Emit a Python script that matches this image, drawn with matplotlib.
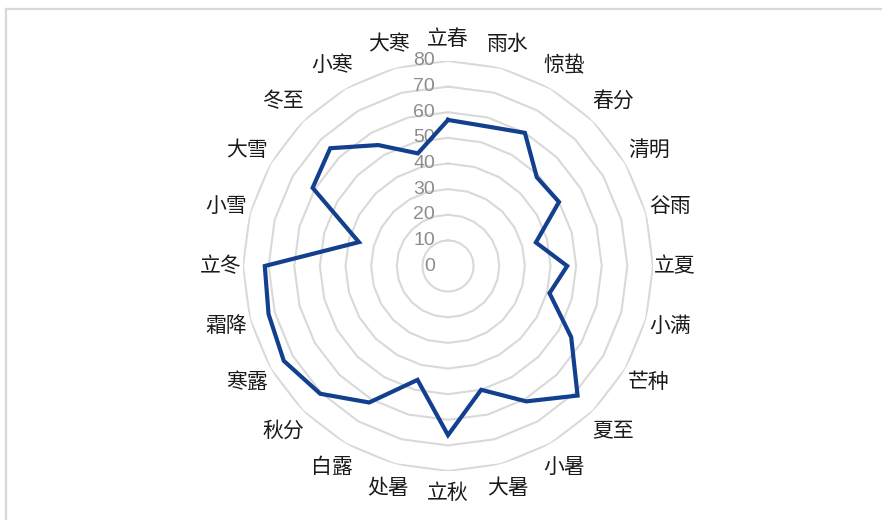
import numpy as np
import matplotlib
matplotlib.use("Agg")
import matplotlib.pyplot as plt
from matplotlib.lines import Line2D
from matplotlib.transforms import offset_copy

plt.rcParams['font.family'] = ['Noto Sans CJK SC', 'DejaVu Sans']

terms = ['立春', '雨水', '惊蛰', '春分', '清明', '谷雨',
         '立夏', '小满', '芒种', '夏至', '小暑', '大暑',
         '立秋', '处暑', '白露', '秋分', '寒露', '霜降',
         '立冬', '小雪', '大雪', '冬至', '小寒', '大寒']
values = [57, 56.5, 60, 49, 50, 35.5,
          46.5, 41, 55.5, 71.5, 61, 50,
          66, 46, 61.5, 70.5, 74, 72.5,
          71.5, 36, 61, 65, 54.5, 45.5]
levels = [0, 10, 20, 30, 40, 50, 60, 70, 80]

n = len(terms)
theta = np.arange(n) * 2 * np.pi / n
theta_closed = np.append(theta, theta[0])

fig = plt.figure(figsize=(8.82, 5.2), dpi=100)
ax = fig.add_axes([0.2755, 0.0942, 0.4649, 0.7885], projection='polar')
ax.set_theta_zero_location('N')
ax.set_theta_direction(-1)
ax.set_ylim(0, 80)
ax.grid(False)
ax.set_xticks([])
ax.set_yticks([])
ax.spines['polar'].set_visible(False)
ax.patch.set_visible(False)

# polygon gridlines
for lv in levels[1:]:
    ax.plot(theta_closed, [lv] * (n + 1), color='#d9d9d9', lw=1.5, zorder=1)

# value axis labels, just left of the vertical axis
lab_tr = offset_copy(ax.transData, fig=fig, x=-13, y=0, units='dots')
for lv in levels:
    ax.text(0, lv, str(lv), transform=lab_tr, ha='right', va='center',
            fontsize=14, color='#8c8c8c', family='Liberation Sans', zorder=2)

# data line
vals_closed = values + values[:1]
ax.plot(theta_closed, vals_closed, color='#133f8f', lw=3.0, zorder=3,
        solid_joinstyle='miter')

# category labels around the outside
for t, name in zip(theta, terms):
    r = 88.5 + 2.5 * abs(np.sin(2 * t))
    ax.text(t, r, name, ha='center', va='center', fontsize=15,
            color='#1a1a1a', clip_on=False)

# chart frame (top and left edges)
fig.add_artist(Line2D([6 / 882, 1], [1 - 9 / 520, 1 - 9 / 520],
                      transform=fig.transFigure, color='#d9d9d9', lw=1.6))
fig.add_artist(Line2D([6 / 882, 6 / 882], [0, 1 - 9 / 520],
                      transform=fig.transFigure, color='#d9d9d9', lw=1.6))

fig.savefig('out.png', dpi=100)
